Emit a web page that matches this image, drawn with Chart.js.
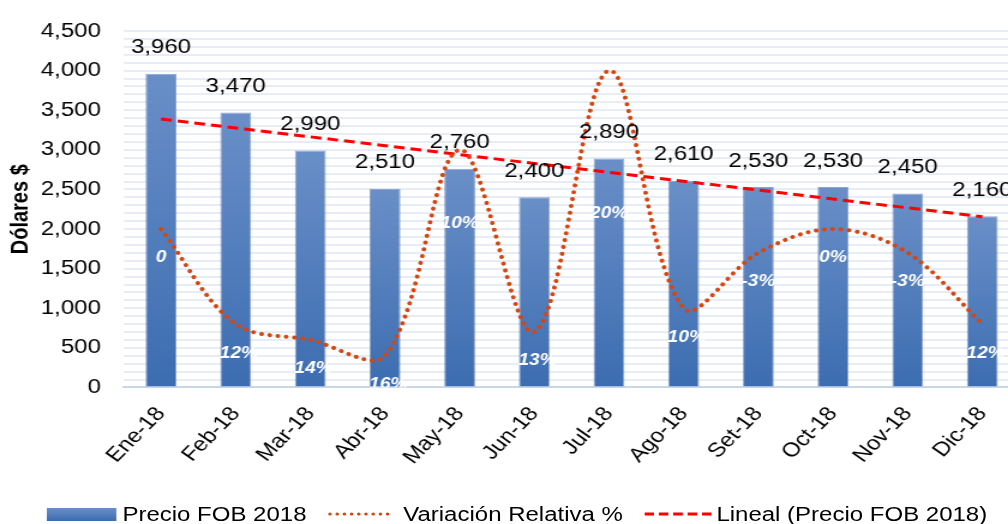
<!DOCTYPE html>
<html>
<head>
<meta charset="utf-8">
<script src="https://cdn.jsdelivr.net/npm/chart.js@4.4.1/dist/chart.umd.min.js"></script>
<style>
  html, body { margin: 0; padding: 0; background: #fff; overflow: hidden; }
  /* the original picture is a bit wider than tall, so the whole chart is stretched on x */
  #wrap { position: absolute; left: 0; top: 0; width: 852px; height: 524px;
          transform: scaleX(1.2); transform-origin: 0 0; }
  #chart { position: absolute; left: 0; top: 0; }
  #legend { position: absolute; left: 0; top: 502px; width: 852px; height: 24px;
            font: 20px "Liberation Sans", Arial, sans-serif; color: #000; }
  #legend .it { position: absolute; top: 0; line-height: 24px; white-space: nowrap; }
  #legend .sw { position: absolute; top: 6px; }
</style>
</head>
<body>
<div id="wrap">
  <canvas id="chart" width="852" height="484"></canvas>
  <div id="legend">
    <div class="sw" style="left:39px;top:6px;width:58px;height:13px;background:linear-gradient(#6a8fc8,#3c6db1);"></div>
    <div class="it" style="left:102px">Precio FOB 2018</div>
    <svg class="sw" style="left:272px;top:9px" width="60" height="6"><line x1="3" y1="3" x2="57" y2="3" stroke="#d5470f" stroke-width="3" stroke-dasharray="0 6" stroke-linecap="round"/></svg>
    <div class="it" style="left:336px">Variación Relativa %</div>
    <svg class="sw" style="left:537px;top:9px" width="56" height="6"><line x1="0" y1="3" x2="56" y2="3" stroke="#ff0000" stroke-width="3" stroke-dasharray="8 4"/></svg>
    <div class="it" style="left:597px">Lineal (Precio FOB 2018)</div>
  </div>
</div>
<script>
// Data
const months = ['Ene-18', 'Feb-18', 'Mar-18', 'Abr-18', 'May-18', 'Jun-18',
                'Jul-18', 'Ago-18', 'Set-18', 'Oct-18', 'Nov-18', 'Dic-18'];
const precioFob = [3960, 3470, 2990, 2510, 2760, 2400, 2890, 2610, 2530, 2530, 2450, 2160];
const variacion = [0, -12, -14, -16, 10, -13, 20, -10, -3, 0, -3, -12];
const variacionLabels = ['0', '-12%', '-14%', '-16%', '10%', '-13%', '20%', '-10%', '-3%', '0%', '-3%', '-12%'];

// axes
const yMin = 0, yMax = 4500, yLabelStep = 500, yGridStep = 100;
const varMin = -20, varMax = 25;

// Excel "Lineal" trendline = least squares fit of the bar values
function linearTrend(values) {
  var n = values.length, mx = (n - 1) / 2, my = 0, sxy = 0, sxx = 0;
  values.forEach(function(v) { my += v / n; });
  values.forEach(function(v, i) { sxy += (i - mx) * (v - my); sxx += (i - mx) * (i - mx); });
  var slope = sxy / sxx;
  return values.map(function(v, i) { return my + slope * (i - mx); });
}

var FONT = '"Liberation Sans", Arial, sans-serif';

// bar value labels + white variation labels
var labelsPlugin = {
  id: 'labels',
  afterDatasetsDraw: function(chart) {
    var ctx = chart.ctx, area = chart.chartArea;
    var bars = chart.getDatasetMeta(0).data;
    var line = chart.getDatasetMeta(2).data;
    ctx.save();
    ctx.textAlign = 'center';
    ctx.textBaseline = 'middle';
    ctx.fillStyle = '#000';
    ctx.font = '20px ' + FONT;
    bars.forEach(function(b, i) {
      ctx.fillText(precioFob[i].toLocaleString('en-US'), b.x, b.y - 26);
    });
    ctx.beginPath();
    ctx.rect(area.left, area.top, area.right - area.left, area.bottom - area.top);
    ctx.clip();
    ctx.fillStyle = '#fff';
    ctx.font = 'italic bold 16px ' + FONT;
    line.forEach(function(p, i) {
      var y = p.y + 29;
      if (y < bars[i].y + 40) y = bars[i].y + 55;
      ctx.fillText(variacionLabels[i], bars[i].x, y);
    });
    ctx.restore();
  }
};

function barFill(c) {
  var chart = c.chart;
  if (!chart.chartArea || c.type !== 'data') return '#5580bf';
  var top = chart.scales.y.getPixelForValue(c.raw);
  var bottom = chart.scales.y.getPixelForValue(0);
  var g = chart.ctx.createLinearGradient(0, top, 0, bottom);
  g.addColorStop(0, '#6a8fc8');
  g.addColorStop(1, '#3c6db1');
  return g;
}

new Chart(document.getElementById('chart'), {
  type: 'bar',
  data: {
    labels: months,
    datasets: [{
      label: 'Precio FOB 2018',
      data: precioFob,
      backgroundColor: barFill,
      borderColor: 'rgba(70,105,165,0.6)',
      borderWidth: 1,
      barPercentage: 0.414,
      categoryPercentage: 1,
      order: 3
    }, {
      type: 'line',
      label: 'Lineal (Precio FOB 2018)',
      data: linearTrend(precioFob),
      borderColor: '#ff0000',
      borderWidth: 3,
      borderDash: [9, 5],
      pointRadius: 0,
      fill: false,
      order: 2
    }, {
      type: 'line',
      label: 'Variación Relativa %',
      data: variacion,
      yAxisID: 'y2',
      borderColor: '#d5470f',
      borderWidth: 4,
      borderDash: [0.1, 6.8],
      borderCapStyle: 'round',
      tension: 0.35,
      pointRadius: 0,
      fill: false,
      order: 1
    }]
  },
  options: {
    responsive: false,
    animation: false,
    layout: { padding: { top: 30, left: 0, right: 0, bottom: 0 } },
    plugins: { legend: { display: false }, tooltip: { enabled: false } },
    scales: {
      x: {
        grid: { display: false, drawTicks: false },
        border: { display: true, color: '#c8d6ea', width: 2 },
        ticks: { color: '#000', font: { size: 20, family: FONT }, minRotation: 50, maxRotation: 50, padding: 15 }
      },
      y: {
        min: yMin, max: yMax,
        grid: { color: '#e6edf6', lineWidth: 2, drawTicks: false },
        border: { display: false },
        ticks: {
          stepSize: yGridStep, autoSkip: false, padding: 19,
          color: '#000', font: { size: 20, family: FONT },
          callback: function(v) { return v % yLabelStep === 0 ? v.toLocaleString('en-US') : ''; }
        },
        title: { display: true, text: 'Dólares $', color: '#000',
                 font: { size: 20, weight: 'bold', family: FONT }, padding: { top: 5, bottom: 5 } },
        // chart.js reserves the tick padding twice, keep it once
        afterFit: function(scale) { scale.width -= scale.options.ticks.padding; }
      },
      y2: { min: varMin, max: varMax, display: false }
    }
  },
  plugins: [labelsPlugin]
});
</script>
</body>
</html>
